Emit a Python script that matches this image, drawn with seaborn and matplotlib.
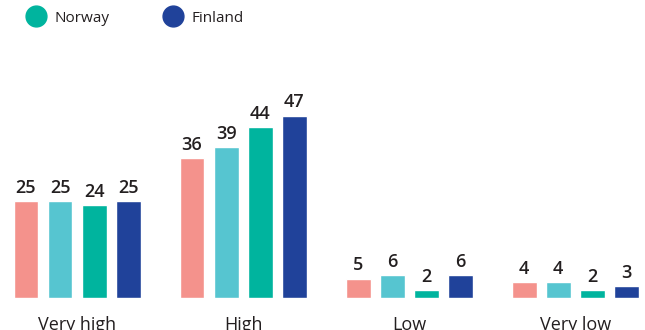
import matplotlib
matplotlib.use("Agg")
import matplotlib.pyplot as plt
from matplotlib.lines import Line2D
import seaborn as sns
import pandas as pd

# data
categories = ["Very high", "High", "Low", "Very low"]
series_names = ["Denmark", "Sweden", "Norway", "Finland"]
denmark = [25, 36, 5, 4]
sweden = [25, 39, 6, 4]
norway = [24, 44, 2, 2]
finland = [25, 47, 6, 3]
colors = ["#F4928C", "#56C5D0", "#00B49E", "#20429A"]

rows = []
for name, vals in zip(series_names, [denmark, sweden, norway, finland]):
    for cat, v in zip(categories, vals):
        rows.append({"category": cat, "country": name, "value": v})
df = pd.DataFrame(rows)

sns.set_style("white")
plt.rcParams["font.family"] = ["Open Sans", "DejaVu Sans"]
text_col = "#231F20"

fig = plt.figure(figsize=(6.45, 3.3), dpi=100)
ax = fig.add_axes([0, 32 / 330, 1, 298 / 330])

sns.barplot(data=df, x="category", y="value", hue="country", order=categories,
            hue_order=series_names, palette=colors, width=0.82, gap=0.27,
            saturation=1, legend=False, ax=ax)

for cont in ax.containers:
    ax.bar_label(cont, padding=3, fontsize=13, fontweight="semibold", color=text_col)

ax.set_xlim(-0.464, 3.42)
ax.set_ylim(0, 76.8)
ax.set_xlabel("")
ax.set_ylabel("")
ax.set_yticks([])
ax.tick_params(axis="x", length=0, pad=13, labelsize=13, labelcolor=text_col)
for lbl in ax.get_xticklabels():
    lbl.set_fontweight("medium")
sns.despine(ax=ax, left=True, bottom=True, top=True, right=True)

# legend (only the last two entries are visible in the reference)
handles = [Line2D([0], [0], marker="o", linestyle="", markersize=15,
                  markerfacecolor=colors[i], markeredgecolor=colors[i])
           for i in (2, 3)]
fig.legend(handles, series_names[2:], loc="center left", bbox_to_anchor=(0.02, 0.945),
           ncol=2, frameon=False, fontsize=11, labelcolor=text_col,
           prop={"size": 11, "weight": "medium"},
           handletextpad=0.6, columnspacing=3.6, handlelength=1.2)

fig.savefig("out.png", dpi=100)
